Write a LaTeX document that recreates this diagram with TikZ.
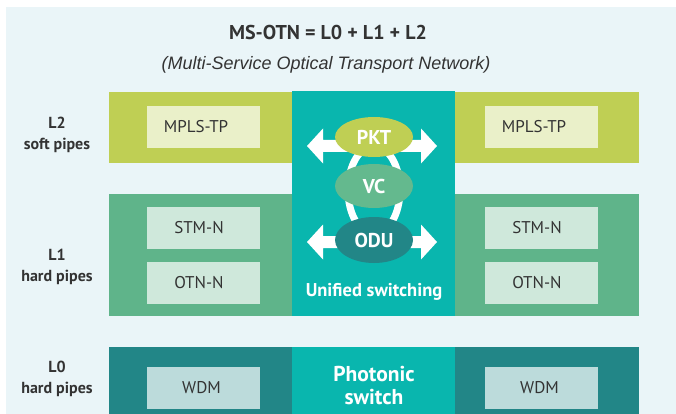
\documentclass[tikz,border=0pt]{standalone}
\usepackage{fontspec}
\setmainfont{PT Sans}
\newfontfamily\subfont{Liberation Sans}
\usetikzlibrary{shapes.geometric}

\definecolor{bgblue}{HTML}{EAF5F8}
\definecolor{lime}{HTML}{BFCF54}
\definecolor{limelight}{HTML}{EAF0C9}
\definecolor{leaf}{HTML}{5FB48A}
\definecolor{leaflight}{HTML}{CFE8DB}
\definecolor{teal}{HTML}{09B6AE}
\definecolor{darkteal}{HTML}{228687}
\definecolor{wdmbox}{HTML}{BCDBDB}
\definecolor{vcgreen}{HTML}{64B98E}
\definecolor{ink}{HTML}{333333}

% white double arrow: left tip x, right tip x, centre y
\newcommand\whitedblarrow[3]{%
  \fill[white] (#1,#3) -- (#1+16,#3-17.5) -- (#1+16,#3-6) -- (#2-16,#3-6)
    -- (#2-16,#3-17.5) -- (#2,#3) -- (#2-16,#3+17.5) -- (#2-16,#3+6)
    -- (#1+16,#3+6) -- (#1+16,#3+17.5) -- cycle;}

\begin{document}
\begin{tikzpicture}[x=1pt,y=-1pt,
  pipebox/.style={rectangle, inner sep=0, minimum width=113pt, minimum height=42pt,
    text=ink, font=\fontsize{17}{20}\selectfont},
  % moves the text of a box left by half of the given length
  textleft/.style={execute at begin node={\hspace*{-#1}}},
  layerlabel/.style={align=center, text=ink, font=\bfseries\fontsize{16}{21}\selectfont},
  switchnode/.style={ellipse, inner sep=0, minimum width=78pt, text=white,
    font=\bfseries\fontsize{20}{22}\selectfont},
  whitelabel/.style={align=center, text=white, font=\bfseries\fontsize{18.5}{22}\selectfont}]
\useasboundingbox (0,0) rectangle (676,414);
\fill[white] (0,0) rectangle (676,414);
\fill[bgblue] (6,7) rectangle (676,414);

% title
\node[text=ink, font=\bfseries\fontsize{20}{24}\selectfont] (title) at (328,32.5) {MS-OTN = L0 + L1 + L2};
\node[text=ink, font=\subfont\itshape\fontsize{18}{22}\selectfont] (subtitle) at (326,65)
  {(Multi-Service Optical Transport Network)};

% layer bands
\fill[lime] (109,92) rectangle (292,163);
\fill[lime] (455,92) rectangle (639,163);
\fill[leaf] (109,194) rectangle (292,316);
\fill[leaf] (455,194) rectangle (639,316);
\fill[darkteal] (109,347) rectangle (639,414);
\fill[teal] (292,91) rectangle (455,316);
\fill[teal] (292,347) rectangle (455,414);

% layer labels
\node[layerlabel] (l2) at (57,134.5) {L2\\soft pipes};
\node[layerlabel] (l1) at (57,267) {L1\\hard pipes};
\node[layerlabel] (l0) at (57,378.5) {L0\\hard pipes};

% pipe boxes
\node[pipebox, fill=limelight, textleft=15pt] (mplsl) at (203.5,127) {MPLS-TP};
\node[pipebox, fill=limelight, textleft=15pt] (mplsr) at (541.5,127) {MPLS-TP};
\node[pipebox, fill=leaflight, textleft=9pt] (stml) at (203.5,228) {STM-N};
\node[pipebox, fill=leaflight, textleft=9pt] (stmr) at (541.5,228) {STM-N};
\node[pipebox, fill=leaflight, textleft=9pt] (otnl) at (203.5,283) {OTN-N};
\node[pipebox, fill=leaflight, textleft=9pt] (otnr) at (541.5,283) {OTN-N};
\node[pipebox, fill=wdmbox, textleft=4pt] (wdml) at (203.5,388) {WDM};
\node[pipebox, fill=wdmbox, textleft=4pt] (wdmr) at (541.5,388) {WDM};

% unified switching fabric
\whitedblarrow{307}{437}{146}
\whitedblarrow{307}{437}{242}
\draw[white, line width=7pt] (374,190) ellipse [x radius=26, y radius=44];
\node[switchnode, fill=lime, minimum height=40pt] (pkt) at (374,137) {PKT};
\node[switchnode, fill=vcgreen, minimum height=44pt] (vc) at (374,186) {VC};
\node[switchnode, fill=darkteal, minimum height=46pt] (odu) at (374,240) {ODU};
\node[whitelabel] (unified) at (374,292) {Unified switching};
\node[whitelabel, font=\bfseries\fontsize{21.5}{23}\selectfont] (photonic) at (374,386) {Photonic\\switch};
\end{tikzpicture}
\end{document}
